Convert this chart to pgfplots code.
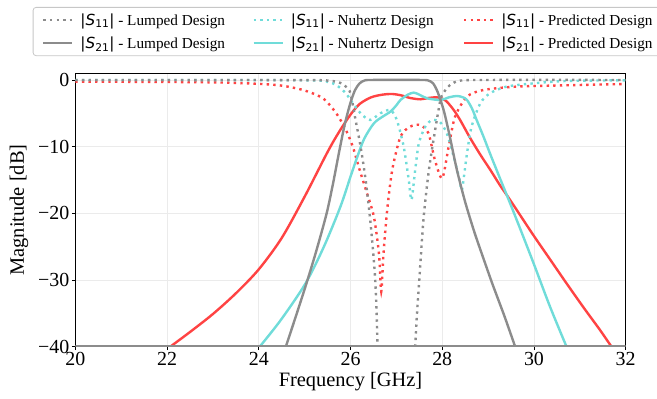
\documentclass[border=0pt]{standalone}
\usepackage{pgfplots}
\pgfplotsset{compat=1.18}
\usepackage{fontspec}
\setmainfont{Liberation Serif}
\newfontfamily\dv{DejaVu Sans}
\definecolor{cgray}{HTML}{8C8C8C}
\definecolor{ccyan}{HTML}{70DCD9}
\definecolor{cred}{HTML}{FF4343}
\newcommand{\Sp}[1]{{\dv|\textit{S}\textsubscript{#1}|}}
\newcommand{\LE}[1]{\makebox[170bp][l]{#1}}
\begin{document}
\begin{tikzpicture}
\begin{axis}[
  name=ax,
  scale only axis, width=550.4bp, height=273.4bp,
  xmin=20, xmax=32, ymin=-40, ymax=1,
  xtick={20,22,...,32},
  ytick={-40,-30,-20,-10,0},
  yticklabels={−40,−30,−20,−10,0},
  /pgf/number format/assume math mode=true,
  tick label style={font=\fontsize{20}{22}\selectfont},
  label style={font=\fontsize{20.5}{22}\selectfont},
  xlabel={Frequency [GHz]}, ylabel={Magnitude [dB]},
  xlabel style={yshift=1bp}, ylabel style={yshift=3bp},
  yticklabel style={xshift=1bp},
  xticklabel style={yshift=1bp},
  grid=major, major grid style={color=black!8, line width=0.6bp},
  tick align=outside, major tick length=3.5bp, tick style={black, line width=0.6bp},
  axis line style={line width=0.8bp},
  xtick pos=bottom, ytick pos=left,
  clip=true,
  legend columns=3,
  legend style={at={(-0.0774,1.2425)}, anchor=north west, draw=black!22, line width=0.8bp, rounded corners=3bp,
    font=\fontsize{15.3}{17}\selectfont, inner xsep=9bp, inner ysep=4bp,
    /tikz/every odd column/.append style={column sep=5bp},
    /tikz/every even column/.append style={column sep=0bp}, row sep=6bp},
  legend cell align=left,
  legend image code/.code={\draw[#1] (0bp,0bp) -- (29bp,0bp);},
  every axis plot/.append style={line width=2.4bp},
  dotline/.style={line cap=butt, dash pattern=on 2.4bp off 4.2bp},
]
\addlegendimage{cgray, line width=2.4bp, dotline}
\addlegendentry{\LE{\Sp{11} - Lumped Design}}
\addlegendimage{ccyan, line width=2.4bp, dotline}
\addlegendentry{\LE{\Sp{11} - Nuhertz Design}}
\addlegendimage{cred, line width=2.4bp, dotline}
\addlegendentry{\LE{\Sp{11} - Predicted Design}}
\addlegendimage{cgray, line width=2.4bp}
\addlegendentry{\LE{\Sp{21} - Lumped Design}}
\addlegendimage{ccyan, line width=2.4bp}
\addlegendentry{\LE{\Sp{21} - Nuhertz Design}}
\addlegendimage{cred, line width=2.4bp}
\addlegendentry{\LE{\Sp{21} - Predicted Design}}
% S21 Predicted
\addplot[cred, smooth, tension=0.5, forget plot] coordinates {
(22.07,-40) (22.5,-37.8) (23.0,-35.1) (23.5,-32.0) (24.0,-28.4) (24.5,-23.7) (25.0,-17.5) (25.5,-10.8) (25.75,-7.8) (26.0,-5.2) (26.2,-3.6) (26.45,-2.6) (26.7,-2.2) (26.9,-2.1) (27.1,-2.3) (27.3,-2.7) (27.52,-2.9) (27.7,-2.7) (27.88,-2.6) (28.0,-2.8) (28.1,-3.25) (28.25,-4.5) (28.39,-6) (28.6,-8.6) (28.83,-11.2) (29.05,-13.5) (29.26,-15.8) (29.48,-18) (29.98,-23.2) (30.35,-26.9) (30.71,-30.5) (31.1,-34.3) (31.44,-37.5) (31.69,-40)};
% S11 Predicted
\addplot[cred, dotline, smooth, tension=0.45, forget plot] coordinates {
(20,-0.25) (22,-0.3) (23.3,-0.4) (24.38,-0.75) (24.96,-1.5) (25.4,-2.75) (25.69,-5) (25.9,-7.5) (26.05,-10) (26.2,-13.5) (26.36,-17) (26.51,-20.5) (26.62,-26) (26.67,-31.75) (26.72,-26) (26.8,-19.5) (26.91,-13.5) (27.09,-8.5) (27.3,-7) (27.52,-6.75) (27.7,-8) (27.84,-12) (28.0,-14.75) (28.14,-10) (28.28,-5.5) (28.54,-2.5) (28.9,-1.5) (29.62,-1) (30.7,-0.8) (32,-0.6)};
% S21 Nuhertz
\addplot[ccyan, smooth, tension=0.5, forget plot] coordinates {
(24.02,-40) (24.48,-36) (25.02,-30.5) (25.42,-25) (25.78,-19) (26.0,-14.5) (26.15,-11.5) (26.3,-8.8) (26.51,-6.5) (26.7,-5.5) (26.87,-4.75) (27.0,-3.8) (27.09,-3) (27.25,-2.2) (27.38,-1.9) (27.5,-2.2) (27.67,-2.75) (27.96,-3) (28.15,-2.6) (28.32,-2.4) (28.45,-2.6) (28.54,-3) (28.65,-4.3) (28.75,-6) (28.9,-8.5) (29.04,-11) (29.25,-14.6) (29.48,-18.5) (29.75,-23.2) (30.02,-28) (30.35,-34) (30.71,-40)};
% S11 Nuhertz
\addplot[ccyan, dotline, smooth, tension=0.45, forget plot] coordinates {
(20,0) (25,-0.05) (25.5,-0.3) (25.7,-0.8) (25.9,-2) (26.0,-3) (26.22,-5) (26.43,-6) (26.65,-5) (26.87,-4.5) (27.01,-6) (27.16,-10) (27.27,-15) (27.33,-18) (27.41,-13.5) (27.49,-9.5) (27.63,-7) (27.78,-6) (27.95,-6.3) (28.1,-8) (28.25,-11.5) (28.38,-15) (28.43,-16.5) (28.54,-11) (28.64,-7) (28.83,-3.5) (29.04,-2) (29.4,-1) (30,-0.5) (30.7,-0.15) (32,-0.05)};
% S11 Lumped (left branch, right branch)
\addplot[cgray, dotline, smooth, tension=0.45, forget plot] coordinates {
(20,0) (25,-0.02) (25.5,-0.1) (25.69,-0.25) (25.8,-0.5) (25.9,-1) (26.0,-2) (26.11,-6) (26.22,-10) (26.33,-15) (26.43,-21) (26.52,-28) (26.56,-33) (26.59,-40)};
\addplot[cgray, dotline, smooth, tension=0.45, forget plot] coordinates {
(27.41,-40) (27.45,-35) (27.49,-31) (27.59,-21) (27.70,-14) (27.81,-9) (27.96,-3) (28.05,-1.7) (28.17,-0.75) (28.39,-0.1) (29,0) (32,0)};
% S21 Lumped
\addplot[cgray, smooth, tension=0.45, forget plot] coordinates {
(24.59,-40) (24.82,-35.2) (25.04,-30.5) (25.26,-25.5) (25.48,-20) (25.62,-15.5) (25.76,-10.5) (25.88,-6.5) (26.0,-3.4) (26.1,-1.5) (26.2,-0.5) (26.3,-0.1) (26.45,0) (27.55,0) (27.7,-0.1) (27.8,-0.5) (27.9,-1.8) (28.03,-4.5) (28.15,-8) (28.32,-13.5) (28.5,-18.3) (28.7,-22.8) (28.9,-26.8) (29.1,-30.7) (29.35,-35.3) (29.59,-40)};
\addplot[cgray, forget plot] coordinates {(20,-40) (32,-40)};
\end{axis}
\pgfresetboundingbox
\path[use as bounding box] ([xshift=-75.3bp,yshift=-52.3bp]ax.south west) rectangle ++(657bp,399bp);
\end{tikzpicture}
\end{document}
